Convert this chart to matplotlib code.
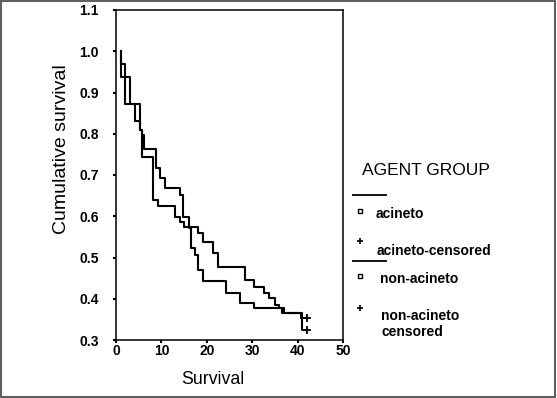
import matplotlib
matplotlib.use('Agg')
import matplotlib.pyplot as plt
from matplotlib.lines import Line2D
from matplotlib.patches import Rectangle

plt.rcParams['font.family'] = ['Liberation Sans', 'DejaVu Sans']

# Kaplan-Meier steps (time, cumulative survival)
acineto_t = [1.0, 1.9, 4.1, 5.3, 5.7, 6.2, 8.8, 9.7, 10.7, 14.2, 14.7, 16.1, 16.5,
             17.3, 18.1, 19.2, 24.2, 27.3, 30.3, 36.6, 40.7]
acineto_s = [0.969, 0.872, 0.832, 0.809, 0.797, 0.762, 0.716, 0.692, 0.668, 0.651,
             0.599, 0.572, 0.522, 0.506, 0.470, 0.444, 0.415, 0.390, 0.377, 0.365, 0.353]
acineto_cens = (42, 0.353)

non_t = [1.0, 3.0, 5.3, 5.8, 8.2, 9.2, 13.0, 14.0, 14.9, 18.1, 19.2, 21.4, 22.4,
         28.4, 30.3, 32.5, 33.6, 35.1, 35.8, 37.0, 41.0]
non_s = [0.937, 0.872, 0.809, 0.744, 0.640, 0.625, 0.599, 0.587, 0.573, 0.559, 0.538,
         0.510, 0.476, 0.445, 0.429, 0.413, 0.401, 0.385, 0.378, 0.365, 0.325]
non_cens = (42, 0.325)

xticks = [0, 10, 20, 30, 40, 50]
yticks = [0.3, 0.4, 0.5, 0.6, 0.7, 0.8, 0.9, 1.0, 1.1]
group_names = ['acineto', 'acineto-censored', 'non-acineto', 'non-acineto\ncensored']

W, H = 557, 398
fig = plt.figure(figsize=(W / 100, H / 100), dpi=100)
ax = fig.add_axes([116 / W, 1 - 340 / H, (343 - 116) / W, (340 - 10) / H])


def km(t, s, cens):
    xs = [t[0]] + t + [cens[0]]
    ys = [1.0] + s + [s[-1]]
    ax.plot(xs, ys, drawstyle='steps-post', color='black', lw=1.5)
    ax.plot([cens[0]], [cens[1]], marker='+', color='black', ms=6, mew=1.3, ls='none')


km(acineto_t, acineto_s, acineto_cens)
km(non_t, non_s, non_cens)

ax.set_xlim(0, 50)
ax.set_ylim(0.3, 1.1)
ax.set_xticks(xticks)
ax.set_xticklabels([str(v) for v in xticks], fontsize=10, fontweight='bold')
ax.set_yticks(yticks)
ax.set_yticklabels(['%.1f' % v for v in yticks], fontsize=10, fontweight='bold')
ax.tick_params(axis='y', direction='out', length=2.2, width=1.5, pad=10)
ax.tick_params(axis='x', direction='out', length=2.2, width=1.5, pad=1)
for sp in ax.spines.values():
    sp.set_linewidth(1.1)

fig.text(61 / W, 1 - 149 / H, 'Cumulative survival', rotation=90, fontsize=14,
         ha='center', va='center')
fig.text(213 / W, 1 - 380 / H, 'Survival', fontsize=12.8, ha='center', va='center')

# legend drawn by hand
def fx(x):
    return x / W


def fy(y):
    return 1 - y / H


fig.text(fx(362), fy(171), 'AGENT GROUP', fontsize=12.5, va='center')
for yy in (195, 261):
    fig.add_artist(Line2D([fx(353), fx(386)], [fy(yy), fy(yy)], color='black', lw=1.3))
marks = ['s', '+', 's', '+']
mark_y = [211, 241, 276, 308]
text_x = [376, 377, 380, 381]
text_y = [214, 251, 279, 324]
for m, my, tx, ty, name in zip(marks, mark_y, text_x, text_y, group_names):
    if m == 's':
        fig.add_artist(Line2D([fx(360)], [fy(my)], marker='s', ms=3.5, mfc='white',
                              mec='black', mew=1.0, ls='none'))
    else:
        fig.add_artist(Line2D([fx(360)], [fy(my)], marker='+', ms=5, mew=1.2,
                              color='black', ls='none'))
    fig.text(fx(tx), fy(ty), name, fontsize=10, fontweight='bold', va='center',
             linespacing=1.2)

fig.add_artist(Rectangle((0.001, 0.002), 0.996, 0.996, transform=fig.transFigure,
                         fill=False, edgecolor='#606060', lw=1.5))

fig.savefig('out.png', dpi=100)
